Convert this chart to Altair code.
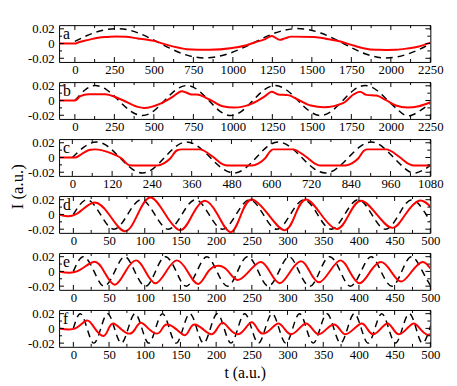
import altair as alt
import pandas as pd

FONT = "Liberation Serif"
W, H = 378, 37.5
Y_DOMAIN = [-0.025, 0.025]
Y_MAJOR = [-0.02, 0.0, 0.02]
Y_MINOR = [-0.01, 0.01]

# ---------------- panel a ----------------
a_letter = "a"
a_dash_t = [0, 118, 262, 402, 542, 682, 821, 971, 1121, 1266, 1411, 1556, 1701, 1836, 1971, 2113, 2250]
a_dash_v = [0.003, 0.0143, 0.0203, 0.0143, 0.0, -0.0138, -0.0195, -0.0138, 0.0, 0.0143, 0.0203, 0.0143, 0.0,
            -0.0138, -0.0195, -0.0138, -0.0005]
a_red_t = [-100, 0, 24, 86, 148, 210, 262, 320, 397, 500, 583, 666, 707, 852, 997, 1080, 1142, 1204, 1246, 1298,
           1329, 1370, 1515, 1598, 1681, 1764, 1826, 1908, 1970, 2032, 2115, 2177, 2250]
a_red_v = [0, 0, 0.0018, 0.005, 0.008, 0.009, 0.0095, 0.0092, 0.007, 0.0036, -0.0018, -0.006, -0.0076, -0.0085,
           -0.006, -0.0027, 0.0018, 0.006, 0.0103, 0.005, 0.007, 0.0094, 0.009, 0.0062, 0.0027, -0.0027, -0.0063,
           -0.0085, -0.0086, -0.0085, -0.0063, -0.004, 0.0013]

# ---------------- panel b ----------------
b_letter = "b"
b_dash_t = [0, 64, 128, 203, 278, 353, 428, 498, 568, 638, 708, 778, 848, 917, 987, 1057, 1127, 1197, 1267, 1340,
            1412, 1484, 1556, 1626, 1696, 1766, 1836, 1908, 1981, 2053, 2126, 2250]
b_dash_v = [0, 0.0143, 0.0203, 0.0143, 0, -0.0143, -0.0203, -0.0143, 0, 0.0143, 0.0203, 0.0143, 0, -0.0143,
            -0.0203, -0.0143, 0, 0.0143, 0.0203, 0.0143, 0, -0.0143, -0.0203, -0.0143, 0, 0.0143, 0.0203, 0.0143,
            0, -0.0143, -0.0203, -0.004]
b_red_t = [-100, 0, 35, 86, 190, 293, 397, 438, 542, 625, 676, 708, 738, 770, 852, 935, 1008, 1121, 1204, 1246,
           1287, 1349, 1411, 1494, 1577, 1701, 1763, 1805, 1846, 1908, 1970, 2032, 2105, 2177, 2250]
b_red_v = [0, 0, 0.0059, 0.0086, 0.0086, 0.0014, -0.0086, -0.010, -0.0041, 0.0059, 0.0127, 0.0105, 0.0082,
           0.0082, 0.0014, -0.0077, -0.0095, -0.0041, 0.0059, 0.0118, 0.0082, 0.0073, 0.0014, -0.0068, -0.0091,
           -0.0032, 0.0082, 0.0118, 0.0077, 0.0068, 0.0005, -0.0068, -0.0095, -0.0077, -0.0023]

# ---------------- panel c ----------------
c_letter = "c"
c_dash_t = [0, 37, 73, 108, 143, 178, 212, 245, 278, 312, 345, 380, 416, 452, 488, 521, 555, 588, 621, 656, 692,
            728, 764, 798, 833, 868, 902, 935, 969, 1003, 1036, 1080]
c_dash_v = [0, 0.0148, 0.021, 0.0148, 0, -0.0148, -0.021, -0.0148, 0, 0.0148, 0.021, 0.0148, 0, -0.0148, -0.021,
            -0.0148, 0, 0.0148, 0.021, 0.0148, 0, -0.0148, -0.021, -0.0148, 0, 0.0148, 0.021, 0.0148, 0,
            -0.0148, -0.021, -0.011]
c_red_t = [-40, 9, 29, 54, 69, 118, 148, 172, 187, 256, 276, 296, 315, 330, 384, 424, 453, 468, 542, 562, 582,
           596, 606, 665, 705, 735, 749, 823, 843, 863, 878, 888, 947, 986, 1016, 1031, 1080]
c_red_v = [0, 0, 0.005, 0.0105, 0.011, 0.0055, -0.001, -0.0105, -0.011, -0.011, -0.008, -0.001, 0.0095, 0.011,
           0.011, 0.001, -0.009, -0.011, -0.011, -0.008, -0.001, 0.008, 0.011, 0.011, 0.001, -0.009, -0.011,
           -0.011, -0.008, -0.001, 0.0085, 0.011, 0.011, 0.001, -0.009, -0.011, -0.011]

# ---------------- panel d ----------------
d_letter = "d"
d_dash_t = [0, 19, 38, 57, 76, 95, 114, 133, 152, 171, 190, 209, 228, 247, 266, 285, 304, 323, 342, 361, 380,
            399, 418, 437, 456, 475, 494, 500]
d_dash_v = [0, 0.02, 0, -0.02, 0, 0.02, 0, -0.02, 0, 0.02, 0, -0.02, 0, 0.02, 0, -0.02, 0, 0.02, 0, -0.02, 0,
            0.02, 0, -0.02, 0, 0.02, 0, -0.0095]
d_red_t = [-20, 3, 28, 50, 72, 90, 108, 129, 150, 167, 184, 202, 220, 235, 250, 273, 296, 311, 326, 347, 369,
           386, 403, 425, 447, 465, 484, 500]
d_red_v = [0, 0, 0.016, 0, -0.0227, 0, 0.023, 0, -0.0213, 0, 0.0187, 0, -0.024, 0, 0.0204, 0, -0.0213, 0,
           0.0204, 0, -0.0196, 0, 0.0187, 0, -0.0182, 0, 0.0187, 0.0107]

# ---------------- panel e ----------------
e_letter = "e"
e_dash_t = [0, 14, 29, 43, 58, 72, 86, 101, 115, 129, 144, 158, 173, 187, 201, 216, 230, 244, 259, 273, 288,
            302, 316, 331, 345, 359, 374, 388, 403, 417, 431, 446, 460, 474, 489, 500]
e_dash_v = [0, 0.02, 0, -0.02, 0, 0.02, 0, -0.02, 0, 0.02, 0, -0.02, 0, 0.02, 0, -0.02, 0, 0.02, 0, -0.02, 0,
            0.02, 0, -0.02, 0, 0.02, 0, -0.02, 0, 0.02, 0, -0.02, 0, 0.02, 0, -0.0188]
e_red_t = [-20, 5, 28, 43, 58, 73, 88, 101, 115, 130, 145, 160, 175, 189, 204, 217, 230, 246, 262, 275, 289,
           304, 319, 331, 344, 359, 374, 387, 401, 416, 431, 445, 459, 474, 489, 500]
e_red_v = [0, 0, 0.0129, 0, -0.018, 0, 0.015, 0, -0.016, 0, 0.015, 0, -0.017, 0, 0.0076, 0, -0.0116, 0, 0.0129,
           0, -0.016, 0, 0.0138, 0, -0.0147, 0, 0.015, 0, -0.016, 0, 0.0129, 0, -0.0138, 0, 0.0129, 0.004]

# ---------------- panel f ----------------
f_letter = "f"
f_dash_t = [0, 9.6, 19.2, 28.8, 38.4, 48, 57.6, 67.2, 76.8, 86.4, 96, 105.6, 115.2, 124.8, 134.4, 144, 153.6,
            163.2, 172.8, 182.4, 192, 201.6, 211.2, 220.8, 230.4, 240, 249.6, 259.2, 268.8, 278.4, 288, 297.6,
            307.2, 316.8, 326.4, 336, 345.6, 355.2, 364.8, 374.4, 384, 393.6, 403.2, 412.8, 422.4, 432, 441.6,
            451.2, 460.8, 470.4, 480, 489.6, 499.2, 500]
f_dash_v = [0, 0.02, 0, -0.02, 0, 0.02, 0, -0.02, 0, 0.02, 0, -0.02, 0, 0.02, 0, -0.02, 0, 0.02, 0, -0.02, 0,
            0.02, 0, -0.02, 0, 0.02, 0, -0.02, 0, 0.02, 0, -0.02, 0, 0.02, 0, -0.02, 0, 0.02, 0, -0.02, 0, 0.02,
            0, -0.02, 0, 0.02, 0, -0.02, 0, 0.02, 0, -0.02, 0, 0.0017]
f_red_t = [-20, 3, 19, 30, 42, 49, 56, 67, 78.5, 86.5, 94.6, 106, 117.4, 124, 131, 144, 156, 163, 170, 181.5,
           193, 201, 209, 219, 230, 240, 250, 258, 266, 276.5, 287, 296, 305, 315.5, 326, 335, 344, 354.5, 365,
           373, 381, 392.5, 404, 412, 420, 430, 440, 448, 456, 466.5, 477, 486, 495, 500]
f_red_v = [0, 0, 0.0107, 0, -0.0102, -0.001, 0.0067, -0.001, -0.0071, -0.001, 0.0076, -0.001, -0.0071, -0.001,
           0.0053, -0.001, -0.0093, -0.001, 0.0053, -0.001, -0.008, -0.001, 0.0076, -0.001, -0.008, -0.001,
           0.0084, -0.001, -0.0071, -0.001, 0.0067, -0.001, -0.008, -0.001, 0.0067, -0.001, -0.008, -0.001,
           0.0053, -0.001, -0.008, -0.001, 0.0067, -0.001, -0.008, -0.001, 0.0067, -0.001, -0.008, -0.001,
           0.0067, -0.001, -0.0084, -0.0075]

# ---------------- axes ----------------
ax_long_t = [0, 250, 500, 750, 1000, 1250, 1500, 1750, 2000, 2250]
ax_long_minor = [125, 375, 625, 875, 1125, 1375, 1625, 1875, 2125]
ax_mid_t = [0, 120, 240, 360, 480, 600, 720, 840, 960, 1080]
ax_mid_minor = [60, 180, 300, 420, 540, 660, 780, 900, 1020]
ax_short_t = [0, 50, 100, 150, 200, 250, 300, 350, 400, 450, 500]
ax_short_minor = [25, 75, 125, 175, 225, 275, 325, 375, 425, 475]

X_TITLE = "t (a.u.)"
Y_TITLE = "I (a.u.)"


def panel(letter, dash_t, dash_v, red_t, red_v, xdom, xmajor, xminor, red_interp,
          xtitle=False, ytitle=False):
    xscale = alt.Scale(domain=xdom, nice=False, zero=False)
    yscale = alt.Scale(domain=Y_DOMAIN, nice=False, zero=False)
    xaxis_kw = dict(values=xmajor, ticks=False, tickSize=0, domain=False, grid=False, labelPadding=2,
                    labelFont=FONT, labelFontSize=13, labelColor="black", format="d", labelFlush=False,
                    labelOverlap=False)
    if xtitle:
        xaxis_kw.update(title=X_TITLE, titleFont=FONT, titleFontSize=16, titlePadding=3,
                        titleFontWeight="normal", titleColor="black")
    yaxis_kw = dict(values=Y_MAJOR, ticks=False, tickSize=0, domain=False, grid=False, labelPadding=5,
                    labelFont=FONT, labelFontSize=13, labelColor="black", labelFlush=False, labelOverlap=False,
                    labelExpr="replace(format(datum.value, '.2~f'), '\u2212', '-')")
    if ytitle:
        yaxis_kw.update(title=Y_TITLE, titleFont=FONT, titleFontSize=17, titleX=-42, titleY=48,
                        titleAngle=270, titleAlign="center", titleBaseline="middle",
                        titleFontWeight="normal", titleColor="black")
    x_enc = alt.X("t:Q", scale=xscale, axis=alt.Axis(**xaxis_kw),
                  title=(X_TITLE if xtitle else None))
    y_enc = alt.Y("I:Q", scale=yscale, axis=alt.Axis(**yaxis_kw),
                  title=(Y_TITLE if ytitle else None))

    dash_df = pd.DataFrame({"t": dash_t, "I": dash_v})
    red_df = pd.DataFrame({"t": red_t, "I": red_v})
    xmaj = pd.DataFrame({"t": xmajor})
    xmin = pd.DataFrame({"t": xminor})
    ymaj = pd.DataFrame({"I": Y_MAJOR})
    ymin = pd.DataFrame({"I": Y_MINOR})

    dash = alt.Chart(dash_df).mark_line(color="black", strokeWidth=1.5, strokeDash=[7, 5],
                                        interpolate="natural", clip=True).encode(x=x_enc, y=y_enc)
    red = alt.Chart(red_df).mark_line(color="#ff0000", strokeWidth=2, interpolate=red_interp,
                                      clip=True).encode(x=x_enc, y=y_enc)
    layers = [dash, red]
    for df, ln in ((xmaj, 5), (xmin, 3)):
        layers.append(alt.Chart(df).mark_rule(color="black", strokeWidth=1).encode(
            x=x_enc, y=alt.value(H), y2=alt.value(H - ln)))
        layers.append(alt.Chart(df).mark_rule(color="black", strokeWidth=1).encode(
            x=x_enc, y=alt.value(0), y2=alt.value(ln)))
    for df, ln in ((ymaj, 5), (ymin, 3)):
        layers.append(alt.Chart(df).mark_rule(color="black", strokeWidth=1).encode(
            y=y_enc, x=alt.value(0), x2=alt.value(ln)))
        layers.append(alt.Chart(df).mark_rule(color="black", strokeWidth=1).encode(
            y=y_enc, x=alt.value(W), x2=alt.value(W - ln)))
    lab = alt.Chart(pd.DataFrame({"label": [letter]})).mark_text(
        align="left", baseline="alphabetic", font=FONT, fontSize=16, color="black"
    ).encode(x=alt.value(4), y=alt.value(14), text="label:N")
    layers.append(lab)
    return alt.layer(*layers).properties(width=W, height=H)


panels = [
    panel(a_letter, a_dash_t, a_dash_v, a_red_t, a_red_v, [-100, 2250], ax_long_t, ax_long_minor, "monotone"),
    panel(b_letter, b_dash_t, b_dash_v, b_red_t, b_red_v, [-100, 2250], ax_long_t, ax_long_minor, "monotone"),
    panel(c_letter, c_dash_t, c_dash_v, c_red_t, c_red_v, [-40, 1080], ax_mid_t, ax_mid_minor, "monotone",
          ytitle=True),
    panel(d_letter, d_dash_t, d_dash_v, d_red_t, d_red_v, [-20, 500], ax_short_t, ax_short_minor, "natural"),
    panel(e_letter, e_dash_t, e_dash_v, e_red_t, e_red_v, [-20, 500], ax_short_t, ax_short_minor, "natural"),
    panel(f_letter, f_dash_t, f_dash_v, f_red_t, f_red_v, [-20, 500], ax_short_t, ax_short_minor, "natural",
          xtitle=True),
]

chart = alt.vconcat(*panels, spacing=20, bounds="flush").properties(
    padding={"left": 0, "top": 11, "right": 5, "bottom": 5}
).configure_view(stroke="black", strokeWidth=1).configure_axis(
    labelFont=FONT, titleFont=FONT, labelColor="black", titleColor="black", titleFontWeight="normal"
)

chart.save("out.html", embed_options={"renderer": "svg", "actions": False})
